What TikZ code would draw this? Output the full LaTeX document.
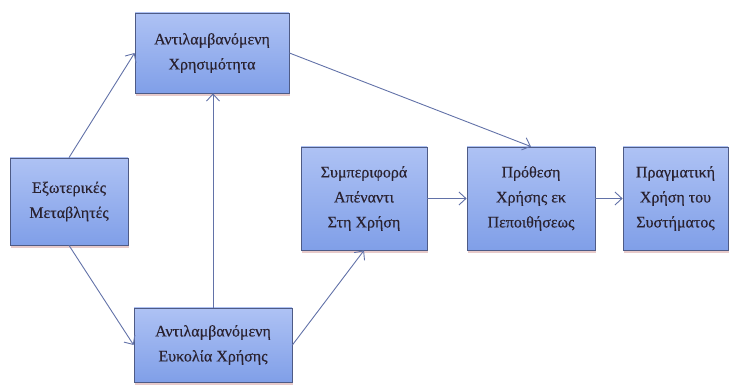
\documentclass[tikz,border=0pt]{standalone}
\usepackage{fontspec}
\setmainfont{Liberation Serif}
\newfontfamily\boxfont[FakeBold=0.4]{Liberation Serif}
\usetikzlibrary{positioning, arrows.meta, shadows}
\definecolor{boxtop}{HTML}{AEC2F4}
\definecolor{boxbot}{HTML}{809FE8}
\definecolor{boxline}{HTML}{4E5B86}
\definecolor{arrowcol}{HTML}{6272A8}
\definecolor{shadowcol}{HTML}{C98A8A}
\definecolor{textcol}{HTML}{2A2230}
\tikzset{
  box/.style={rectangle, draw=boxline, line width=0.8pt, top color=boxtop, bottom color=boxbot,
    align=center, text=textcol, font=\boxfont\fontsize{16}{25}\selectfont, inner sep=2pt,
    drop shadow={shadow xshift=1pt, shadow yshift=-3pt, fill=shadowcol, opacity=0.45}},
  link/.style={draw=arrowcol, line width=0.9pt, -{Straight Barb[length=7pt, width=13pt]}}
}
\begin{document}
\begin{tikzpicture}[x=1pt, y=-1pt]
        \useasboundingbox (0,0) rectangle (732,387);
        \node[box, minimum width=118pt, minimum height=87pt] (ext) at (69,201.5) {Εξωτερικές\\Μεταβλητές};
        \node[box, minimum width=154pt, minimum height=80pt] (useful) at (212,53) {Αντιλαμβανόμενη\\Χρησιμότητα};
        \node[box, minimum width=158pt, minimum height=74pt] (ease) at (213,345) {Αντιλαμβανόμενη\\Ευκολία Χρήσης};
        \node[box, minimum width=126pt, minimum height=103pt] (att) at (364,198.5) {Συμπεριφορά\\Απέναντι\\Στη Χρήση};
        \node[box, minimum width=128pt, minimum height=103pt] (intent) at (531,198.5) {Πρόθεση\\Χρήσης εκ\\Πεποιθήσεως};
        \node[box, minimum width=105pt, minimum height=103pt] (use) at (675.5,198.5) {Πραγματική\\Χρήση του\\Συστήματος};
        \draw[link] (ext.north) -- (useful.west);
        \draw[link] (ext.south) -- (ease.west);
        \draw[link] (ease.north) -- (ease.north |- useful.south);
        \draw[link] (ease.east) -- (att.south);
        \draw[link] (useful.east) -- (intent.north);
        \draw[link] (att.east) -- (intent.west);
        \draw[link] (intent.east) -- (use.west);
      \end{tikzpicture}
\end{document}
